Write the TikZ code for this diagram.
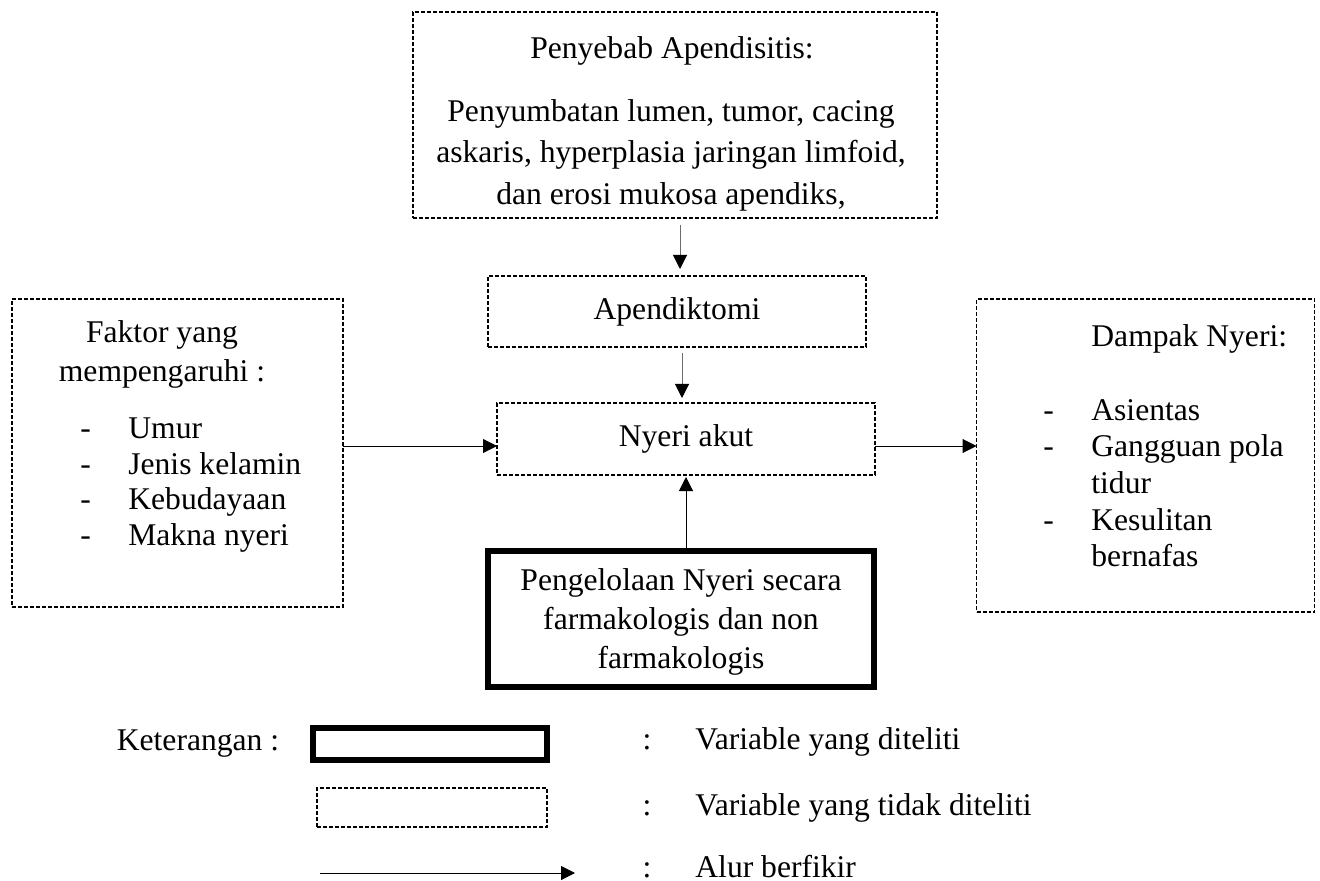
\documentclass[tikz,border=0pt]{standalone}
\usepackage{fontspec}
\setmainfont{Liberation Serif}
\usetikzlibrary{arrows.meta}
\begin{document}
\begin{tikzpicture}[x=0.5pt,y=-0.5pt,
  dbox/.style={draw, dash pattern=on 2pt off 1pt, line width=0.65pt, inner sep=0pt, outer sep=0pt},
  tbox/.style={draw, line width=3.2pt, inner sep=0pt, outer sep=0pt},
  txt/.style={inner sep=0pt, font=\fontsize{15.8}{19}\selectfont},
  arr/.style={line width=0.5pt, -{Triangle[length=7pt,width=7pt,color=black]}},
  garr/.style={arr, draw=gray!85!black}]
\useasboundingbox (0,0) rectangle (1320,881);
% boxes
\node[dbox, minimum width=262pt, minimum height=103pt] (top) at (675,115) {};
\node[dbox, minimum width=189pt, minimum height=35.5pt, txt] (ap) at (677,311.5) {Apendiktomi};
\node[dbox, minimum width=189pt, minimum height=36pt, txt] (ny) at (686,439) {Nyeri akut};
\node[tbox, minimum width=193pt, minimum height=68pt, inner sep=0pt, outer sep=0pt] (pg) at (681,619) {};
\node[txt, align=center, font=\fontsize{15.8}{19.5}\selectfont] (pgtxt) at (681,622)
      {Pengelolaan Nyeri secara\\farmakologis dan non\\farmakologis};
\node[dbox, minimum width=165.5pt, minimum height=154pt] (lf) at (177.5,453) {};
\node[dbox, minimum width=169pt, minimum height=156.5pt] (rt) at (1145.5,455.5) {};
% texts
\node[txt] (toptitle) at (672,51) {Penyebab Apendisitis:};
\node[txt, align=center, font=\fontsize{15.8}{20.75}\selectfont] (topbody) at (671,155)
  {Penyumbatan lumen, tumor, cacing\\askaris, hyperplasia jaringan limfoid,\\dan erosi mukosa apendiks,};
\node[txt, align=center, font=\fontsize{15.8}{19.5}\selectfont] (lfhead) at (162,354)
  {Faktor yang\\mempengaruhi :};
\node[txt, align=left, anchor=west, font=\fontsize{15.8}{17.85}\selectfont] (lflist) at (80,485)
  {\makebox[24pt][l]{-}Umur\\\makebox[24pt][l]{-}Jenis kelamin\\\makebox[24pt][l]{-}Kebudayaan\\\makebox[24pt][l]{-}Makna nyeri};
\node[txt, align=left, anchor=west, font=\fontsize{15.8}{18.33}\selectfont] (rtlist) at (1043,446)
  {\makebox[24pt][l]{}Dampak Nyeri:\\\mbox{}\\\makebox[24pt][l]{-}Asientas\\\makebox[24pt][l]{-}Gangguan pola\\\makebox[24pt][l]{}tidur\\\makebox[24pt][l]{-}Kesulitan\\\makebox[24pt][l]{}bernafas};
% connectors
\draw[garr, shorten <=3.5pt, shorten >=3.5pt] ([xshift=1.5pt]ap.north |- top.south) -- ([xshift=1.5pt]ap.north);
\draw[garr, shorten <=3pt, shorten >=2.5pt] ([xshift=2.5pt]ap.south) -- ([xshift=2.5pt]ap.south |- ny.north);
\draw[arr, shorten >=1pt] (ny.south |- pg.north) -- (ny.south);
\draw[arr] ([yshift=-3.5pt]ny.west -| lf.east) -- ([yshift=-3.5pt]ny.west);
\draw[arr] ([yshift=-3.5pt]ny.east) -- ([yshift=-3.5pt]ny.east -| rt.west);
% legend
\node[txt, anchor=base] (ket) at (198,750) {Keterangan :};
\node[draw, line width=3pt, minimum width=117pt, minimum height=16pt, inner sep=0pt, outer sep=0pt] (lgt) at (430,744) {};
\node[dbox, minimum width=115pt, minimum height=19.5pt] (lgd) at (432,807.5) {};
\coordinate (la1) at (320,873);
\coordinate (la2) at (575,873);
\draw[arr] (la1) -- (la2);
\node[txt, anchor=base] (c1) at (647,749) {:};
\node[txt, anchor=base] (c2) at (647,815) {:};
\node[txt, anchor=base] (c3) at (647,877) {:};
\node[txt, anchor=base west] (l1) at (695,749) {Variable yang diteliti};
\node[txt, anchor=base west] (l2) at (695,815) {Variable yang tidak diteliti};
\node[txt, anchor=base west] (l3) at (695,877) {Alur berfikir};
\end{tikzpicture}
\end{document}
